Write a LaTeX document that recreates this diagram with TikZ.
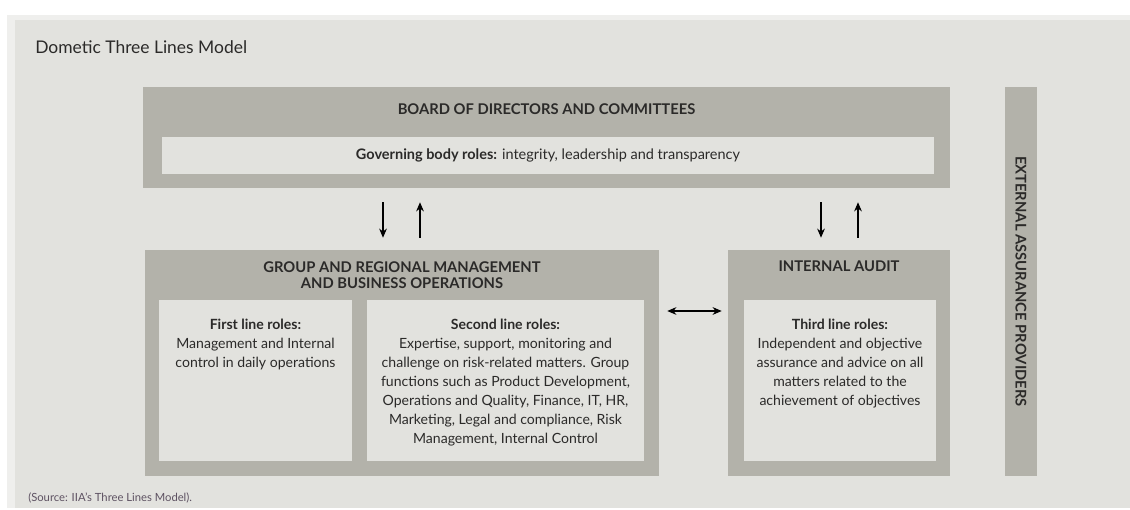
\documentclass[tikz,border=0pt]{standalone}
\usepackage{fontspec}
\setmainfont{Lato}
\usetikzlibrary{positioning,fit,arrows.meta}

\definecolor{paper}{HTML}{E2E2DE}
\definecolor{rim}{HTML}{EFEFED}
\definecolor{band}{HTML}{B3B2AA}
\definecolor{ink}{HTML}{2B2A29}
\definecolor{note}{HTML}{5E5262}

\begin{document}
\begin{tikzpicture}[x=0.025cm,y=-0.025cm,node distance=0.5cm,
    outer/.style={fill=band,inner sep=0pt},
    inner/.style={fill=paper,inner sep=0pt},
    heading/.style={font=\fontsize{10.5}{11.4}\selectfont\bfseries,text=ink,align=center,inner sep=0pt},
    roles/.style={font=\fontsize{10}{13.5}\selectfont,text=ink,align=center,inner sep=0pt},
    flow/.style={line width=0.8pt,-{Stealth[length=6.5pt,width=5.5pt]}},
    both/.style={line width=0.8pt,{Stealth[length=6.5pt,width=5.5pt]}-{Stealth[length=6.5pt,width=5.5pt]}}]
  \useasboundingbox (0,0) rectangle (1130,510);
  \fill[white] (0,0) rectangle (1130,510);
  \fill[rim] (7,15) rectangle (1130,508);
  \fill[paper] (15,20) rectangle (1130,508);

  \node[anchor=base west,font=\fontsize{12.4}{15}\selectfont,text=ink,inner sep=0pt] (title) at (35,54) {Dometic Three Lines Model};

  % board on top
  \node[outer,fit={(143,87) (950,188)}] (board) {};
  \node[inner,fit={(162,137) (934,174)}] (govern) {};
  \node[heading,below=0.43cm of board.north] (boardhead) {BOARD OF DIRECTORS AND COMMITTEES};
  \node[roles,font=\fontsize{10.3}{13.5}\selectfont] (governtext) at (govern) {\textbf{Governing body roles:} integrity, leadership and transparency};

  % first and second line
  \node[outer,fit={(145,250) (659,476)}] (group) {};
  \node[heading,below=0.3cm of group.north] (grouphead) {GROUP AND REGIONAL MANAGEMENT\\AND BUSINESS OPERATIONS};
  \node[inner,fit={(159,300) (352,461)}] (first) {};
  \node[inner,fit={(367,300) (644,461)}] (second) {};
  \node[roles,below=0.47cm of first.north] (firsttext) {\textbf{First line roles:}\\Management and Internal\\control in daily operations};
  \node[roles,below=0.47cm of second.north] (secondtext) {\textbf{Second line roles:}\\Expertise, support, monitoring and\\challenge on risk-related matters. Group\\functions such as Product Development,\\Operations and Quality, Finance, IT, HR,\\Marketing, Legal and compliance, Risk\\Management, Internal Control};

  % third line
  \node[outer,fit={(728,250) (950,476)}] (audit) {};
  \node[heading,below=0.28cm of audit.north] (audithead) {INTERNAL AUDIT};
  \node[inner,fit={(744,300) (936,461)}] (third) {};
  \node[roles,below=0.47cm of third.north] (thirdtext) {\textbf{Third line roles:}\\Independent and objective\\assurance and advice on all\\matters related to the\\achievement of objectives};

  % external providers
  \node[outer,fit={(1005,87) (1037,476)}] (external) {};
  \node[heading,rotate=-90] (externaltext) at (external) {EXTERNAL ASSURANCE PROVIDERS};

  % arrows between the boxes
  \coordinate (colA) at (383,0);
  \coordinate (colB) at (420,0);
  \coordinate (colC) at (821,0);
  \coordinate (colD) at (858,0);
  \coordinate (rowE) at (0,311);
  \draw[flow,shorten <=0.35cm,shorten >=0.3cm] (board.south -| colA) -- (group.north -| colA);
  \draw[flow,shorten <=0.3cm,shorten >=0.35cm] (group.north -| colB) -- (board.south -| colB);
  \draw[flow,shorten <=0.35cm,shorten >=0.3cm] (board.south -| colC) -- (audit.north -| colC);
  \draw[flow,shorten <=0.3cm,shorten >=0.35cm] (audit.north -| colD) -- (board.south -| colD);
  \draw[both,shorten <=0.2cm,shorten >=0.15cm] (group.east |- rowE) -- (audit.west |- rowE);

  \node[anchor=base west,font=\fontsize{8}{9}\selectfont,text=note,inner sep=0pt] (source) at (28,501) {(Source: IIA's Three Lines Model).};
\end{tikzpicture}
\end{document}
